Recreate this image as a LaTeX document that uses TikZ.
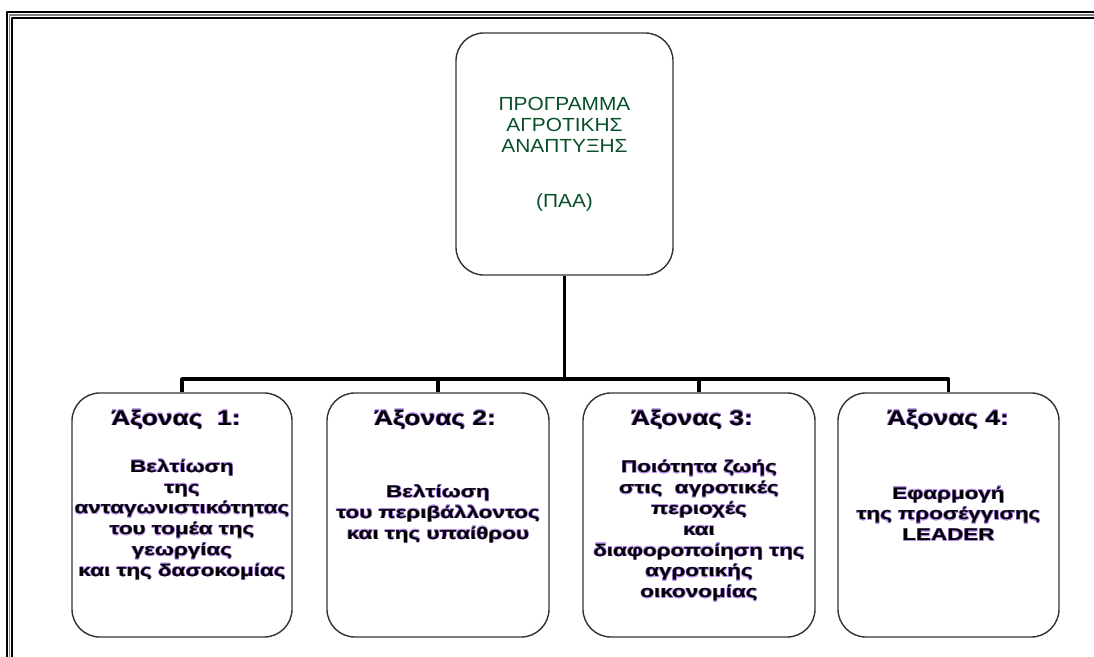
\documentclass[tikz,border=0pt]{standalone}
\usepackage{fontspec}
\usepackage[copies]{contour}
\setmainfont{Liberation Sans}
\newfontfamily\topfont[FakeStretch=1.1]{Liberation Sans}
\newfontfamily\axfont[FakeStretch=1.25]{Liberation Sans}
\newfontfamily\bodyfont[FakeStretch=1.33]{Liberation Sans}
\definecolor{paagreen}{RGB}{8,80,40}
\definecolor{halo}{RGB}{180,140,232}
\contourlength{0.35pt}
\contournumber{16}
\newcommand{\hl}[1]{\contour{halo}{#1}}
\begin{document}
\begin{tikzpicture}[x=0.025cm,y=-0.025cm,line join=round]
	\tikzset{frame/.style={line width=1.4pt},
		paabox/.style={draw=black!80,line width=1pt,rounded corners=0.7cm,fill=white,align=center},
		axhead/.style={font=\axfont\bfseries\fontsize{15}{18}\selectfont,text=black},
		axbody/.style={font=\bodyfont\bfseries\fontsize{12}{14.8}\selectfont,align=center,text=black},
		conn/.style={line width=2.7pt}}
	\useasboundingbox (0,0) rectangle (1094,657);
	\clip (0,0) rectangle (1094,657);
	% page frame
	\draw[frame] (7,12) rectangle (1110,680);
	\draw[frame,gray,line width=1.2pt] (9.5,14.8) rectangle (1110,680);
	\draw[frame] (12,18) rectangle (1110,680);
	% programme
	\node[paabox,minimum width=5.425cm,minimum height=6.05cm,
		font=\topfont\fontsize{13.5}{15}\selectfont,text=paagreen] (paa) at (564.5,154)
		{ΠΡΟΓΡΑΜΜΑ\\ΑΓΡΟΤΙΚΗΣ\\ΑΝΑΠΤΥΞΗΣ\\[24pt](ΠΑΑ)};
	% axes
	\node[paabox,minimum width=5.5cm,minimum height=6.1cm] (ax1) at (182,515) {};
	\node[paabox,minimum width=5.55cm,minimum height=6.1cm] (ax2) at (438,515) {};
	\node[paabox,minimum width=5.8cm,minimum height=6.1cm] (ax3) at (699,515) {};
	\node[paabox,minimum width=5.525cm,minimum height=6.1cm] (ax4) at (948.5,515) {};
	\node[axhead] (h1) at (176,420) {\hl{Άξονας\ \ 1:}};
	\node[axhead] (h2) at (435,420) {\hl{Άξονας 2:}};
	\node[axhead] (h3) at (692,420) {\hl{Άξονας 3:}};
	\node[axhead] (h4) at (948,420) {\hl{Άξονας 4:}};
	\node[axbody] (b1) at (182,520) {\hl{Βελτίωση}\\\hl{της}\\\hl{ανταγωνιστικότητας}\\\hl{του τομέα της}\\\hl{γεωργίας}\\\hl{και της δασοκομίας}};
	\node[axbody] (b2) at (438,514) {\hl{Βελτίωση}\\\hl{του περιβάλλοντος}\\\hl{και της υπαίθρου}};
	\node[axbody] (b3) at (699,531) {\hl{Ποιότητα ζωής}\\\hl{στις\ \ αγροτικές}\\\hl{περιοχές}\\\hl{και}\\\hl{διαφοροποίηση της}\\\hl{αγροτικής}\\\hl{οικονομίας}};
	\node[axbody] (b4) at (948.5,514) {\hl{Εφαρμογή}\\\hl{της προσέγγισης}\\\hl{LEADER}};
	% tree
	\coordinate (bar) at (0,379);
	\draw[conn] (paa.south) -- (paa.south |- bar);
	\draw[conn] (ax1.north) -- (ax1.north |- bar) -- (ax4.north |- bar) -- (ax4.north);
	\draw[conn] (ax2.north) -- (ax2.north |- bar);
	\draw[conn] (ax3.north) -- (ax3.north |- bar);
\end{tikzpicture}
\end{document}
